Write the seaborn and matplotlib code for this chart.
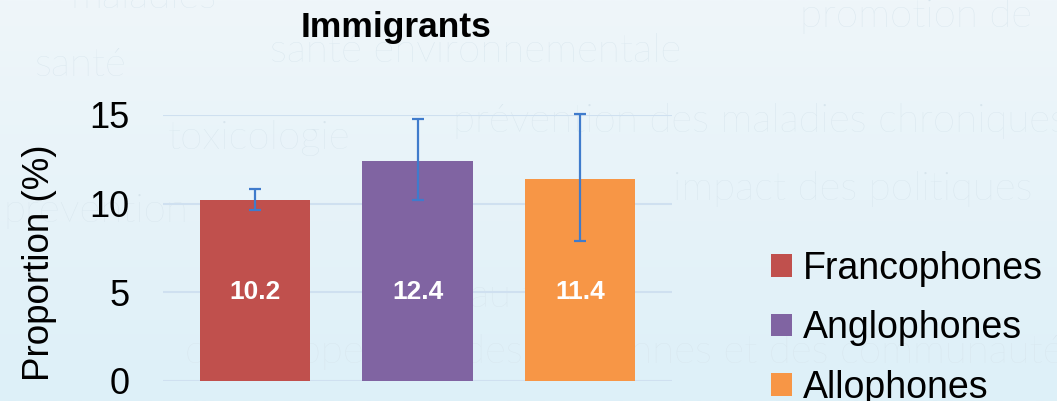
import numpy as np
import pandas as pd
import matplotlib
matplotlib.use("Agg")
import matplotlib.pyplot as plt
from matplotlib.colors import LinearSegmentedColormap
import seaborn as sns

# data
groupes = ["Francophones", "Anglophones", "Allophones"]
proportions = [10.2, 12.4, 11.4]
ic_bas = [9.63, 10.21, 7.90]
ic_haut = [10.83, 14.78, 15.06]
couleurs = ["#c0504d", "#8064a2", "#f79646"]
yticks = [0, 5, 10, 15]

# faint background words (text, x px, baseline px, ha)
fond = [
    ("maladies", 70, 8, "left"),
    ("promotion de", 800, 27, "left"),
    ("santé environnementale", 270, 62, "left"),
    ("santé", 35, 76, "left"),
    ("prévention des maladies chroniques", 453, 132, "left"),
    ("toxicologie", 168, 149, "left"),
    ("impact des politiques", 673, 200, "left"),
    ("prévention", 188, 222, "right"),
    ("au travail", 470, 307, "left"),
    ("développement des personnes et des communautés", 185, 363, "left"),
]

sns.set_style("white")
plt.rcParams["font.family"] = ["Liberation Sans", "DejaVu Sans"]
plt.rcParams["text.color"] = "black"
plt.rcParams["ytick.color"] = "black"

W, H = 1057, 401
fig = plt.figure(figsize=(W / 100, H / 100), dpi=100)

# background gradient + watermark words
bg = fig.add_axes([0, 0, 1, 1])
bg.set_zorder(-10)
cmap = LinearSegmentedColormap.from_list("fond", ["#eff6fa", "#e7f3f9", "#ddf0f8"])
grad = np.linspace(0, 1, 256).reshape(-1, 1)
bg.imshow(grad, cmap=cmap, aspect="auto", extent=[0, W, H, 0])
bg.set_xlim(0, W)
bg.set_ylim(H, 0)
bg.axis("off")
for txt, x, y, ha in fond:
    bg.text(x, y, txt, ha=ha, va="baseline", fontsize=29, color="#d7e5ed",
            family=["Lato", "DejaVu Sans"], fontweight="light")

ax = fig.add_axes([163 / W, 1 - 381 / H, (672 - 163) / W, (381 - 115) / H])
ax.patch.set_alpha(0)

df = pd.DataFrame({"groupe": groupes, "proportion": proportions})
sns.barplot(data=df, x="groupe", y="proportion", hue="groupe",
            palette=couleurs, width=0.677, errorbar=None, legend=True,
            saturation=1, linewidth=0, edgecolor="none", ax=ax, zorder=3)

props = np.array(proportions)
yerr = [props - np.array(ic_bas), np.array(ic_haut) - props]
ax.errorbar(np.arange(len(groupes)), props, yerr=yerr, fmt="none",
            ecolor="#3f7bcc", elinewidth=1.6, capsize=4.4, capthick=1.6,
            zorder=5, clip_on=False)

for i, v in enumerate(proportions):
    ax.text(i, 5.0, f"{v:.1f}", ha="center", va="center", color="white",
            fontsize=19, fontweight="bold", zorder=6)

ax.set_xlim(-0.566, 2.566)
ax.set_ylim(0, 15)
ax.set_yticks(yticks)
ax.set_yticklabels([str(t) for t in yticks])
ax.tick_params(axis="y", length=0, pad=24, labelsize=26, labelcolor="black")
ax.set_xticks([])
ax.set_xlabel("")
ax.set_ylabel("")
ax.grid(axis="y", color="#cfe0f0", linewidth=1.5, zorder=0)
ax.set_axisbelow(True)
for s in ax.spines.values():
    s.set_visible(False)

fig.text(396 / W, 1 - 37 / H, "Immigrants", ha="center", va="baseline",
         fontsize=25.5, fontweight="bold", color="black")
fig.text(40 / W, 1 - 263 / H, "Proportion (%)", rotation=90, ha="center",
         va="center", fontsize=26.5, color="black")

handles, labels = ax.get_legend_handles_labels()
leg = ax.legend(handles, labels, loc="upper left", bbox_to_anchor=(771 / W, 1 - 251 / H),
                bbox_transform=fig.transFigure, frameon=False, fontsize=27,
                handlelength=0.55, handleheight=0.55, handletextpad=0.3,
                labelspacing=0.62, borderaxespad=0, borderpad=0)
for t in leg.get_texts():
    t.set_color("black")

fig.savefig("out.png", dpi=100)
